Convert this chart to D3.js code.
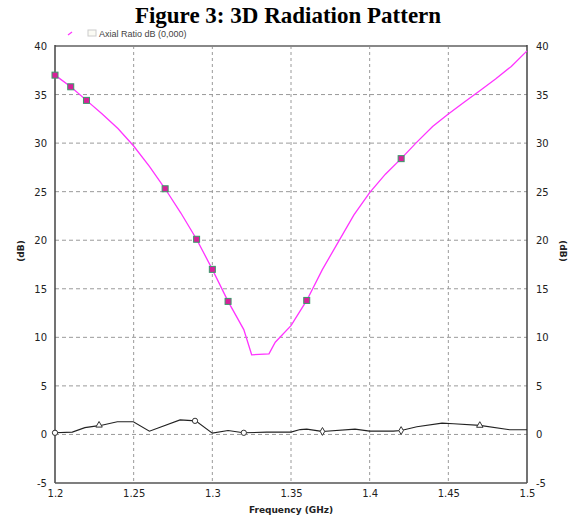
<!DOCTYPE html>
<html><head><meta charset="utf-8">
<script src="https://cdn.jsdelivr.net/npm/d3@7"></script>
<style>body{margin:0;background:#fff}svg{display:block}</style>
</head><body><svg id="c" width="576" height="520"></svg>
<script>
const title = "Figure 3: 3D Radiation Pattern";
const legendLabel = "Axial Ratio dB (0,000)";
const xLabel = "Frequency (GHz)";
const yLabel = "(dB)";
const xTicks = [1.2, 1.25, 1.3, 1.35, 1.4, 1.45, 1.5];
const yTicks = [-5, 0, 5, 10, 15, 20, 25, 30, 35, 40];

// Axial ratio curve (magenta)
const arFreq = [1.2, 1.21, 1.22, 1.23, 1.24, 1.25, 1.26, 1.27, 1.28, 1.29, 1.30, 1.31, 1.32, 1.325, 1.336, 1.34, 1.35, 1.36, 1.37, 1.38, 1.39, 1.40, 1.41, 1.42, 1.43, 1.44, 1.45, 1.46, 1.47, 1.48, 1.49, 1.50];
const arVal  = [37.0, 35.8, 34.4, 33.0, 31.5, 29.7, 27.6, 25.3, 22.8, 20.1, 17.0, 13.7, 10.8, 8.2, 8.3, 9.5, 11.2, 13.8, 17.0, 19.8, 22.6, 24.9, 26.8, 28.4, 30.1, 31.7, 33.0, 34.2, 35.4, 36.6, 37.9, 39.5];
const arMarkFreq = [1.2, 1.21, 1.22, 1.27, 1.29, 1.30, 1.31, 1.36, 1.42];
const arMarkVal  = [37.0, 35.8, 34.4, 25.3, 20.1, 17.0, 13.7, 13.8, 28.4];

// Second curve (black)
const bFreq = [1.2, 1.211, 1.219, 1.229, 1.2396, 1.2498, 1.26, 1.2795, 1.2894, 1.30, 1.31, 1.3197, 1.3346, 1.35, 1.3558, 1.36, 1.3685, 1.37, 1.3907, 1.40, 1.415, 1.42, 1.43, 1.446, 1.4533, 1.47, 1.489, 1.50];
const bVal  = [0.17, 0.24, 0.7, 0.93, 1.3, 1.3, 0.34, 1.5, 1.4, 0.14, 0.4, 0.17, 0.24, 0.24, 0.5, 0.55, 0.34, 0.31, 0.55, 0.34, 0.34, 0.4, 0.8, 1.17, 1.1, 0.93, 0.48, 0.48];
const bMarkFreq = [1.2, 1.228, 1.289, 1.32, 1.37, 1.42, 1.47];
const bMarkVal  = [0.17, 0.95, 1.4, 0.17, 0.31, 0.4, 0.93];
const bMarkShape = ["circle", "triangle", "circle", "circle", "diamond", "diamond", "triangle"];

const svg = d3.select("#c");
const L = 55, R = 527, T = 46, B = 483;
const x = d3.scaleLinear().domain([1.2, 1.5]).range([L, R]);
const y = d3.scaleLinear().domain([-5, 40]).range([B, T]);

// grid
const grid = svg.append("g");
grid.selectAll("line.v").data(xTicks.slice(1, -1)).join("line")
  .attr("x1", d => x(d)).attr("x2", d => x(d)).attr("y1", T).attr("y2", B)
  .attr("stroke", "#9a9a9a").attr("stroke-dasharray", "3,3");
grid.selectAll("line.h").data(yTicks.slice(1, -1)).join("line")
  .attr("y1", d => y(d)).attr("y2", d => y(d)).attr("x1", L).attr("x2", R)
  .attr("stroke", "#9a9a9a").attr("stroke-dasharray", "4,3");

// axes via d3 axis (labels only)
const fmt = d => String(d);
const ax = svg.append("g").attr("transform", `translate(0,${B})`)
  .call(d3.axisBottom(x).tickValues(xTicks).tickFormat(fmt).tickSize(0).tickPadding(7));
const ayl = svg.append("g").attr("transform", `translate(${L},0)`)
  .call(d3.axisLeft(y).tickValues(yTicks).tickFormat(fmt).tickSize(0).tickPadding(8));
const ayr = svg.append("g").attr("transform", `translate(${R},0)`)
  .call(d3.axisRight(y).tickValues(yTicks).tickFormat(fmt).tickSize(0).tickPadding(9));
[ax, ayl, ayr].forEach(g => {
  g.select(".domain").remove();
  g.selectAll("text").attr("font-family", "DejaVu Sans, sans-serif").attr("font-size", 10).attr("fill", "#222");
});
ayl.selectAll("text").attr("dy", "0.35em");
ayr.selectAll("text").attr("dy", "0.35em");

// frame
svg.append("line").attr("x1", L).attr("x2", R).attr("y1", T).attr("y2", T).attr("stroke", "#888").attr("stroke-width", 2);
svg.append("line").attr("x1", L).attr("x2", L).attr("y1", T - 1).attr("y2", B).attr("stroke", "#444").attr("stroke-width", 1.5);
svg.append("line").attr("x1", R).attr("x2", R).attr("y1", T - 1).attr("y2", B).attr("stroke", "#444").attr("stroke-width", 1.5);
svg.append("line").attr("x1", L).attr("x2", R).attr("y1", B).attr("y2", B).attr("stroke", "#555").attr("stroke-width", 1.5);

// black curve
const bData = bFreq.map((f, i) => [f, bVal[i]]);
svg.append("path").datum(bData)
  .attr("d", d3.line().x(d => x(d[0])).y(d => y(d[1])))
  .attr("fill", "none").attr("stroke", "#222").attr("stroke-width", 1.1);
const sym = {circle: d3.symbolCircle, triangle: d3.symbolTriangle, diamond: d3.symbolDiamond};
svg.append("g").selectAll("path").data(bMarkFreq.map((f, i) => [f, bMarkVal[i], bMarkShape[i]])).join("path")
  .attr("transform", d => `translate(${x(d[0])},${y(d[1])})`)
  .attr("d", d => d3.symbol().type(sym[d[2]]).size(d[2] === "circle" ? 22 : 18)())
  .attr("fill", "#fff").attr("stroke", "#333").attr("stroke-width", 1);

// magenta curve
const arData = arFreq.map((f, i) => [f, arVal[i]]);
svg.append("path").datum(arData)
  .attr("d", d3.line().x(d => x(d[0])).y(d => y(d[1])))
  .attr("fill", "none").attr("stroke", "#ff33ff").attr("stroke-width", 1.3);
svg.append("g").selectAll("rect").data(arMarkFreq.map((f, i) => [f, arMarkVal[i]])).join("rect")
  .attr("x", d => x(d[0]) - 3).attr("y", d => y(d[1]) - 3).attr("width", 6).attr("height", 6)
  .attr("fill", "#d8209a").attr("stroke", "#3a9a6a").attr("stroke-width", 1);

// legend (just under the title)
svg.append("line").attr("x1", 68).attr("x2", 72).attr("y1", 35).attr("y2", 32).attr("stroke", "#ff33ff").attr("stroke-width", 1.2);
svg.append("rect").attr("x", 88).attr("y", 30).attr("width", 8).attr("height", 6).attr("fill", "#fbfbf4").attr("stroke", "#ccc");
svg.append("text").attr("x", 99).attr("y", 37).text(legendLabel)
  .attr("font-family", "Liberation Sans, Arial, sans-serif").attr("font-size", 9).attr("fill", "#444");

// title
svg.append("text").attr("x", 288).attr("y", 23).attr("text-anchor", "middle").text(title)
  .attr("font-family", "Liberation Serif, Times New Roman, serif").attr("font-weight", "bold").attr("font-size", 23).attr("fill", "#000");

// axis titles
svg.append("text").attr("x", 291).attr("y", 513).attr("text-anchor", "middle").text(xLabel)
  .attr("font-family", "DejaVu Sans, sans-serif").attr("font-weight", "bold").attr("font-size", 9).attr("fill", "#222");
svg.append("text").attr("transform", "translate(24,251) rotate(-90)").attr("text-anchor", "middle").text(yLabel)
  .attr("font-family", "DejaVu Sans, sans-serif").attr("font-weight", "bold").attr("font-size", 9).attr("fill", "#222");
svg.append("text").attr("transform", "translate(560,251) rotate(90)").attr("text-anchor", "middle").text(yLabel)
  .attr("font-family", "DejaVu Sans, sans-serif").attr("font-weight", "bold").attr("font-size", 9).attr("fill", "#222");
</script></body></html>
